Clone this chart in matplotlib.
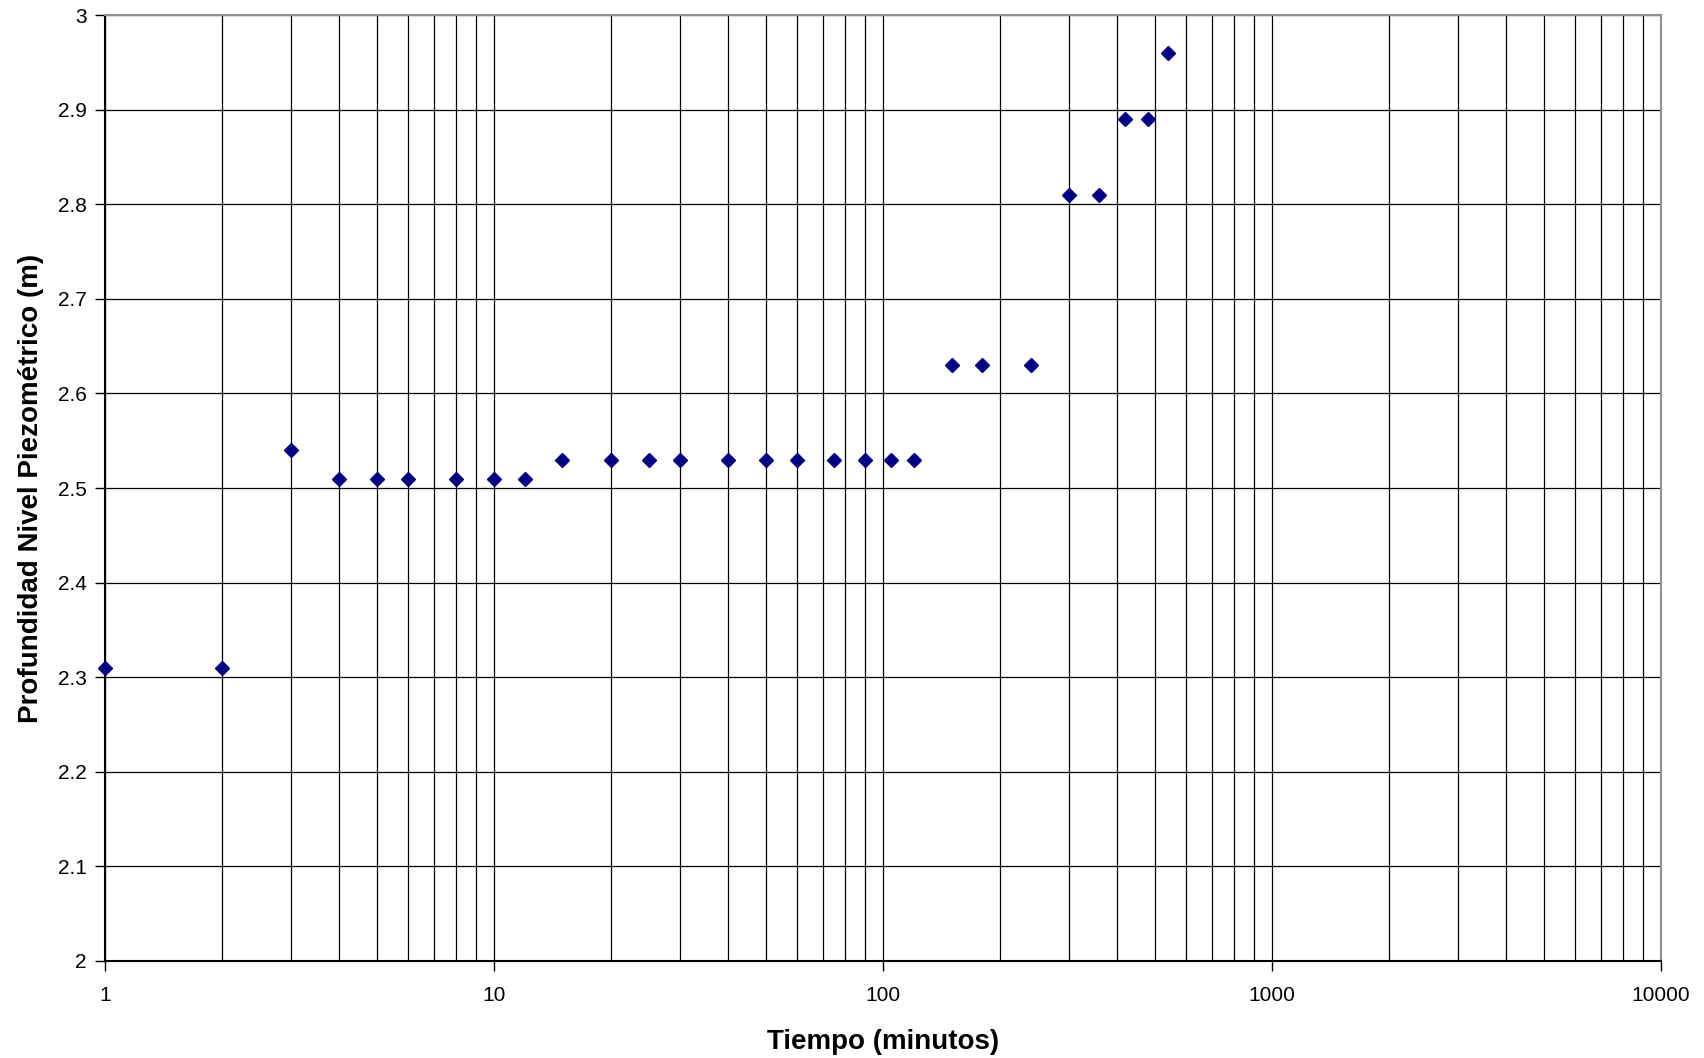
import matplotlib
matplotlib.use('Agg')
import matplotlib.pyplot as plt
import matplotlib.ticker as mticker
import numpy as np

plt.rcParams['font.family'] = ['Liberation Sans', 'DejaVu Sans']

# tiempo (minutos) y profundidad (m)
tiempo = [1, 2, 3, 4, 5, 6, 8, 10, 12, 15, 20, 25, 30, 40, 50, 60, 75, 90,
          105, 120, 150, 180, 240, 300, 360, 420, 480, 540]
profundidad = [2.31, 2.31, 2.54, 2.51, 2.51, 2.51, 2.51, 2.51, 2.51,
               2.53, 2.53, 2.53, 2.53, 2.53, 2.53, 2.53, 2.53, 2.53, 2.53, 2.53,
               2.63, 2.63, 2.63, 2.81, 2.81, 2.89, 2.89, 2.96]
y_ticks = np.round(np.arange(2.0, 3.01, 0.1), 1)

fig = plt.figure(figsize=(17.04, 10.58), dpi=100)
ax = fig.add_axes([0.0616, 0.0917, 0.9132, 0.8941])

ax.set_xscale('log')
ax.set_xlim(1, 10000)
ax.set_ylim(2, 3)

ax.xaxis.set_major_locator(mticker.LogLocator(base=10, numticks=10))
ax.xaxis.set_minor_locator(mticker.LogLocator(base=10, subs=np.arange(2, 10), numticks=20))
ax.xaxis.set_major_formatter(mticker.FuncFormatter(lambda v, p: f"{int(round(v))}"))
ax.xaxis.set_minor_formatter(mticker.NullFormatter())
ax.set_yticks(y_ticks)
ax.yaxis.set_major_formatter(mticker.FuncFormatter(lambda v, p: f"{v:g}"))

ax.grid(which='both', axis='x', color='black', linewidth=0.9)
ax.grid(which='major', axis='y', color='black', linewidth=0.9)
ax.set_axisbelow(True)

ax.plot(tiempo, profundidad, linestyle='none', marker='D', markersize=7,
        color='#000080', clip_on=False, zorder=3)

ax.tick_params(which='major', direction='out', length=7, width=1, labelsize=15,
               pad=6, colors='black')
ax.tick_params(which='minor', length=0)
ax.tick_params(axis='x', pad=11)

for side in ('left', 'bottom'):
  ax.spines[side].set_color('black')
  ax.spines[side].set_linewidth(1.5)
for side in ('top', 'right'):
  ax.spines[side].set_color('#909090')
  ax.spines[side].set_linewidth(1.5)

ax.set_xlabel('Tiempo (minutos)', fontsize=20, fontweight='bold', labelpad=17)
ax.set_ylabel('Profundidad Nivel Piezométrico (m)', fontsize=20, fontweight='bold',
              labelpad=10)

fig.savefig('out.png', dpi=100)
plt.close(fig)
